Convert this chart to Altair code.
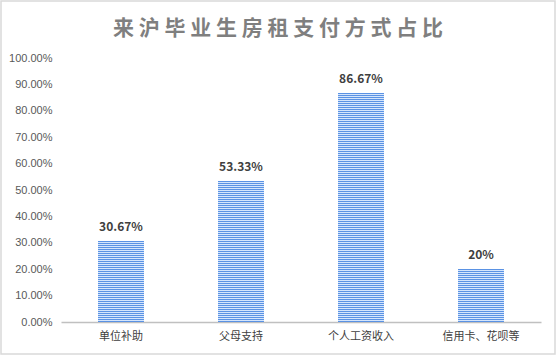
import altair as alt
import pandas as pd

categories = ["单位补助", "父母支持", "个人工资收入", "信用卡、花呗等"]
values = [0.3067, 0.5333, 0.8667, 0.20]
labels = ["30.67%", "53.33%", "86.67%", "20%"]
y_ticks = [0, 0.1, 0.2, 0.3, 0.4, 0.5, 0.6, 0.7, 0.8, 0.9, 1.0]
title_text = "来沪毕业生房租支付方式占比"

df = pd.DataFrame({"cat": categories, "value": values, "label": labels})

STRIPE_STEP = 2 / 264
FONT = "Noto Sans CJK SC"

x_axis = alt.Axis(title=None, labelAngle=0, ticks=False,
                  domainColor="#c0c0c0", domainWidth=1.6,
                  labelFont=FONT, labelFontSize=11,
                  labelColor="#404040", labelPadding=8)
x_scale = alt.Scale(paddingInner=0.617, paddingOuter=0.3085)
y_axis = alt.Axis(title=None, values=y_ticks, format=".2%",
                  grid=False, ticks=False, domain=False,
                  labelOverlap=False, tickCount=11,
                  labelFont="Liberation Sans", labelFontSize=11,
                  labelColor="#595959", labelPadding=9)
y_scale = alt.Scale(domain=[0, 1])

base = alt.Chart(df)

bars = base.mark_bar(color="#d4e5fc").encode(
    x=alt.X("cat:N", sort=categories, scale=x_scale, axis=x_axis),
    y=alt.Y("value:Q", scale=y_scale, axis=y_axis),
)

stripes = base.transform_calculate(
    s=f"sequence(0, datum.value, {STRIPE_STEP})"
).transform_flatten(["s"]).transform_calculate(
    s2=f"datum.s + {STRIPE_STEP * 0.5}"
).mark_bar(color="#5a92e4").encode(
    x=alt.X("cat:N", sort=categories, scale=x_scale, axis=x_axis),
    y=alt.Y("s:Q", scale=y_scale, axis=y_axis),
    y2="s2:Q",
)

text = base.mark_text(baseline="bottom", dy=-7, font=FONT, fontSize=12,
                      fontWeight="bold", color="#404040").encode(
    x=alt.X("cat:N", sort=categories, scale=x_scale, axis=x_axis),
    y=alt.Y("value:Q", scale=y_scale, axis=y_axis),
    text="label:N",
)

title = alt.Chart(pd.DataFrame({"t": [" ".join(title_text)]})).mark_text(
    font=FONT, fontSize=21, fontWeight="bold", color="#7f7f7f",
    baseline="middle", align="center"
).encode(
    x=alt.value(217), y=alt.value(-29),
    text=alt.Text("t:N"),
)

frame = alt.Chart(pd.DataFrame({"a": [0]})).mark_rect(
    fill=None, stroke="#d9d9d9", strokeWidth=1.5
).encode(
    x=alt.value(-60), x2=alt.value(494), y=alt.value(-57), y2=alt.value(296)
)

chart = alt.layer(bars, stripes, text, title, frame).properties(
    width=480, height=264,
    autosize="none",
    padding={"left": 61, "top": 58, "right": 15, "bottom": 33},
    background="white",
).configure_view(stroke=None)

chart.save("out.html", embed_options={"renderer": "svg", "actions": False})
